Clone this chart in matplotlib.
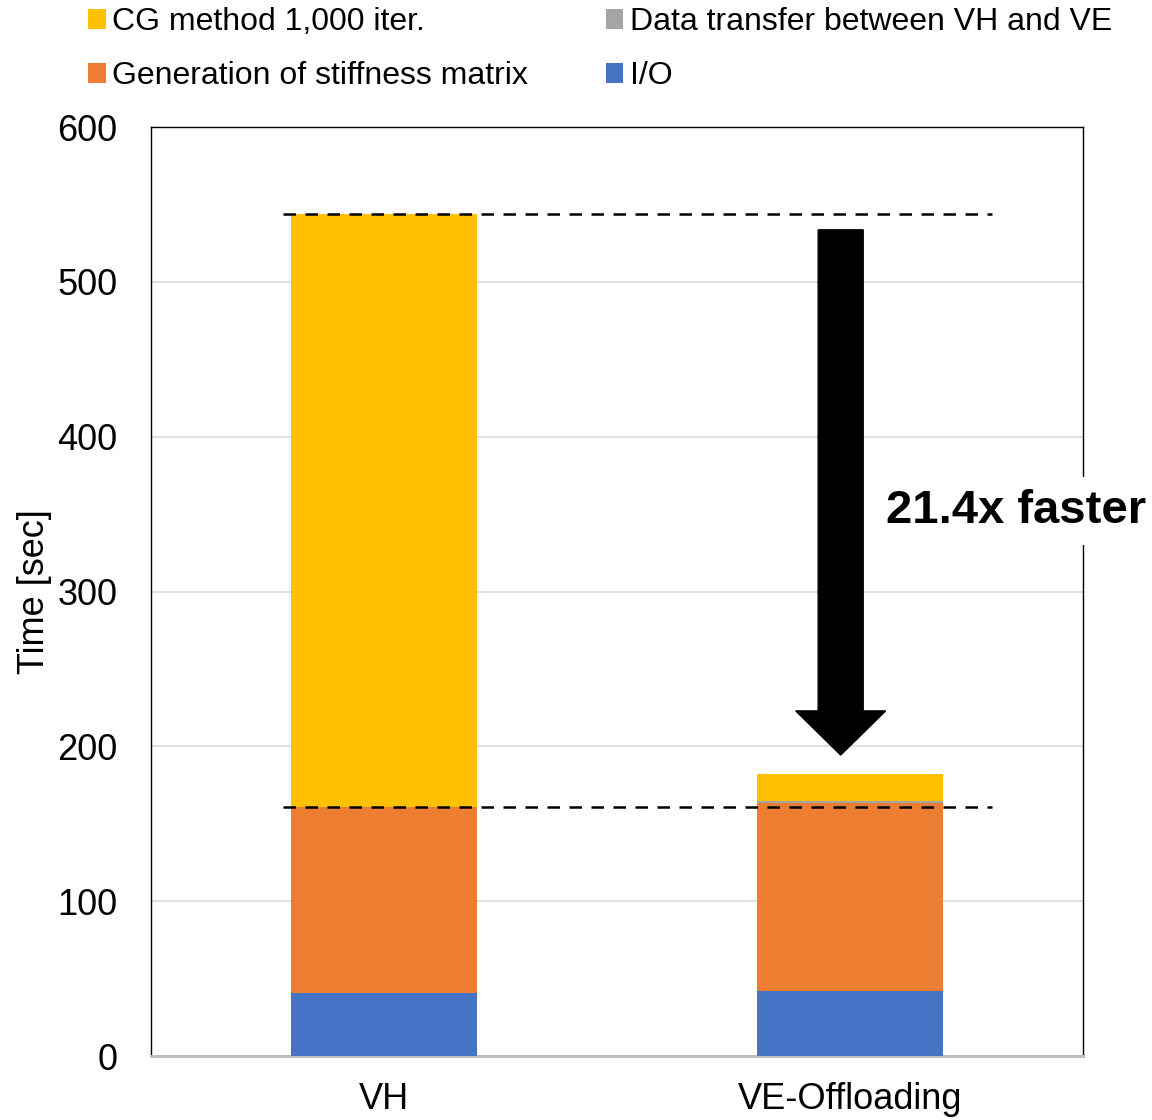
import numpy as np
import matplotlib.pyplot as plt

plt.rcParams['font.family'] = ['Liberation Sans', 'DejaVu Sans']

# Data
categories = ["VH", "VE-Offloading"]
series_names = ["I/O", "Generation of stiffness matrix",
                "Data transfer between VH and VE", "CG method 1,000 iter."]
io_time = [41.0, 42.0]
stiffness_time = [120.0, 121.6]
transfer_time = [0.0, 0.8]
cg_time = [383.0, 17.9]
colors = ["#4472C4", "#ED7D31", "#A5A5A5", "#FFC000"]
speedup_label = "21.4x faster"

fig = plt.figure(figsize=(11.52, 11.2), dpi=100)
ax = fig.add_axes([0.1311, 0.0571, 0.809, 0.8295])

x = np.arange(len(categories))
bottom = np.zeros(len(categories))
bars = []
for vals, name, c in zip([io_time, stiffness_time, transfer_time, cg_time], series_names, colors):
    b = ax.bar(x, vals, width=0.4, bottom=bottom, color=c, label=name, zorder=3)
    bars.append(b)
    bottom += np.array(vals)

# dashed reference lines at VH levels
vh_total = bottom[0]
vh_pre_cg = io_time[0] + stiffness_time[0] + transfer_time[0]
for yv in [vh_total, vh_pre_cg]:
    ax.plot([-0.217, 1.305], [yv, yv], color="black", lw=1.8,
            linestyle=(0, (5, 3.8)), zorder=4)

# big arrow
ax.arrow(0.98, 533.6, 0, -(533.6 - 194.4), width=0.0966, head_width=0.193,
         head_length=28.5, length_includes_head=True, color="black", zorder=5)

ax.text(1.077, 352.0, speedup_label, fontsize=34, fontweight="bold",
        ha="left", va="center", zorder=6, clip_on=False,
        bbox=dict(facecolor="white", edgecolor="none", pad=9))

ax.set_xlim(-0.5, 1.5)
ax.set_ylim(0, 600)
ax.set_yticks(range(0, 601, 100))
ax.set_xticks(x)
ax.set_xticklabels(categories)
ax.tick_params(axis="both", length=0, labelsize=26)
ax.tick_params(axis="y", pad=24)
ax.tick_params(axis="x", pad=19)
ax.set_ylabel("Time [sec]", fontsize=26, labelpad=4)
ax.yaxis.grid(True, color="#D9D9D9", lw=1.2, zorder=0)
ax.set_axisbelow(True)
for s in ["left", "top", "right"]:
    ax.spines[s].set_color("black")
    ax.spines[s].set_linewidth(1.0)
ax.spines["bottom"].set_color("#BFBFBF")
ax.spines["bottom"].set_linewidth(2.2)

handles = [bars[3], bars[1], bars[2], bars[0]]
labels = [series_names[3], series_names[1], series_names[2], series_names[0]]
fig.legend(handles, labels, loc="upper left", bbox_to_anchor=(0.0764, 0.9935),
           ncol=2, frameon=False, fontsize=23, handlelength=0.55,
           handleheight=0.55, handletextpad=0.2, columnspacing=2.44,
           labelspacing=0.75, borderpad=0, borderaxespad=0)

fig.savefig("out.png", dpi=100)
